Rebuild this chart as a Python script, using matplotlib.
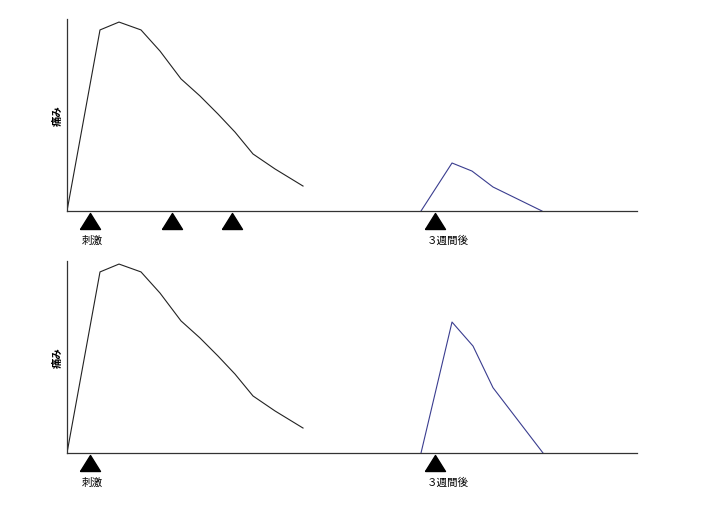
import matplotlib
matplotlib.use("Agg")
import matplotlib.pyplot as plt

plt.rcParams['font.family'] = ['Noto Sans CJK JP', 'DejaVu Sans']

# time axis (arbitrary units) and pain intensity (0-100)
first_x = [0, 3.3, 5.2, 7.4, 9.3, 11.4, 13.3, 15.1, 16.8, 18.6, 20.8, 23.6]
first_y = [0, 94.3, 98.4, 94.3, 83.3, 68.8, 59.9, 50.5, 41.1, 29.7, 21.9, 13.0]

later_x_top = [35.4, 38.5, 40.5, 42.6, 47.5]
later_y_top = [0, 25.0, 20.8, 12.5, 0]

later_x_bot = [35.4, 38.5, 40.6, 42.6, 47.6]
later_y_bot = [0, 68.2, 55.7, 34.0, 0]

stim_top = [2.3, 10.5, 16.5, 36.8]
stim_bot = [2.3, 36.8]

label_stim = "刺激"
label_later = "３週間後"
label_y = "痛み"

fig = plt.figure(figsize=(7.06, 5.10), dpi=100)
ax1 = fig.add_axes([0.0949, 0.5843, 0.8074, 0.3765])
ax2 = fig.add_axes([0.0949, 0.1098, 0.8074, 0.3765])

tri = [(-1, -0.8), (1, -0.8), (0, 0.8), (-1, -0.8)]

def style(ax, lx, ly, stims):
    ax.plot(first_x, first_y, color='#222222', lw=0.8)
    ax.plot(lx, ly, color='#3a3d8f', lw=0.8)
    ax.set_xlim(0, 57)
    ax.set_ylim(0, 100)
    for s in ['top', 'right']:
        ax.spines[s].set_visible(False)
    for s in ['left', 'bottom']:
        ax.spines[s].set_color('#333333')
        ax.spines[s].set_linewidth(0.9)
    ax.set_xticks([])
    ax.set_yticks([])
    ax.plot(stims, [-5.2] * len(stims), linestyle='none', marker=tri,
            markersize=14.4, color='black', clip_on=False)
    ax.text(stims[0] - 0.8, -14.8, label_stim, ha='left', va='center', fontsize=7.6)
    ax.text(stims[-1] - 0.8, -14.8, label_later, ha='left', va='center', fontsize=7.6)
    ax.set_ylabel(label_y, fontsize=7.5, fontweight='bold', labelpad=3)

style(ax1, later_x_top, later_y_top, stim_top)
style(ax2, later_x_bot, later_y_bot, stim_bot)

fig.savefig("out.png", dpi=100)
